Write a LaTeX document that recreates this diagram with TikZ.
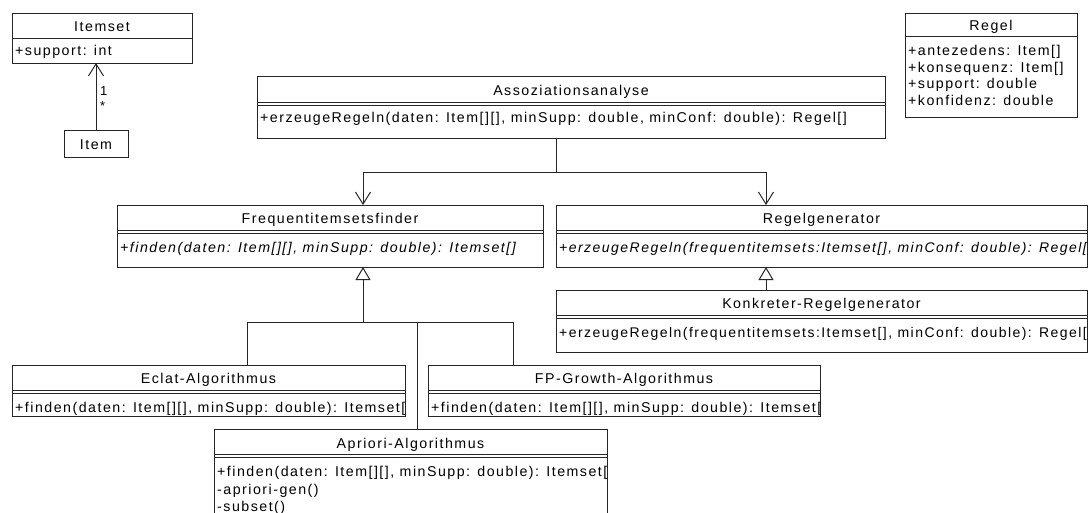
\documentclass[tikz,border=0pt]{standalone}
\usepackage{fontspec}
\setmainfont{Liberation Sans}[LetterSpace=10.5]
\usetikzlibrary{arrows.meta,calc}

\newcommand\umlfont{\fontsize{14.2pt}{17pt}\selectfont}
\newcommand\umlfontlong{\fontsize{14pt}{17pt}\selectfont}
\newcommand\classbox[5]{% name, left, top, width, height
  \node[umlbox, minimum width=#4pt, minimum height=#5pt] (#1) at (#2,#3) {};}
\newcommand\hsep[2]{% box, offset from top
  \draw[sepline] ($(#1.north west)+(0,#2)$) -- ($(#1.north east)+(0,#2)$);}
\newcommand\dsep[1]{% empty attribute compartment (double line)
  \hsep{#1}{25}\hsep{#1}{28}}

\tikzset{
  umlbox/.style={draw=black!85, line width=1pt, rectangle, outer sep=0pt,
    inner sep=0pt, anchor=north west, fill=white},
  ttl/.style={inner sep=0pt, anchor=base, font=\umlfont, text=black},
  row/.style={inner sep=0pt, anchor=base west, font=\umlfont, text=black},
  irow/.style={row, font=\umlfont\itshape},
  longrow/.style={row, font=\umlfontlong},
  ilongrow/.style={row, font=\umlfontlong\itshape},
  mult/.style={inner sep=0pt, anchor=base west, font=\fontsize{13pt}{15pt}\selectfont},
  sepline/.style={line width=1pt, draw=black!85},
  link/.style={line width=1pt, draw=black!85},
  assoc/.style={link, -{Straight Barb[length=12pt,width=15pt]}},
  inherit/.style={link, -{Triangle[open,fill=white,length=13pt,width=15pt]}},
}

\begin{document}
\begin{tikzpicture}[x=1pt, y=-1pt]
\useasboundingbox (0,0) rectangle (1089,512);
\fill[white] (0,0) rectangle (1089,512);
\clip (0,0) rectangle (1089,512);

% ---------- class boxes ----------
\classbox{itemset}{12}{13}{180}{50}
\classbox{item}{64}{130}{64}{27}
\classbox{regel}{905}{13}{172}{104}
\classbox{assoz}{257}{76}{628}{62}
\classbox{freq}{117}{205}{426}{62}
\classbox{regelgen}{556}{205}{531}{62}
\classbox{konk}{556}{290}{531}{62}
\classbox{eclat}{12}{365}{393}{51}
\classbox{fp}{428}{365}{392}{51}
\classbox{apriori}{214}{429}{393}{120}

% ---------- compartments ----------
\hsep{itemset}{25}
\hsep{regel}{23}
\hsep{assoz}{26}\hsep{assoz}{29}
\dsep{freq}
\dsep{regelgen}
\dsep{konk}
\dsep{eclat}
\dsep{fp}
\dsep{apriori}

% ---------- texts ----------
\node[ttl] (itemsetT) at (102,31) {Itemset};
\node[row] (itemsetA) at (15,55) {+support: int};

\node[ttl] (itemT) at (96,149) {Item};

\node[ttl] (regelT) at (991,30) {Regel};
\node[row] (regelA1) at (908,55) {+antezedens: Item[]};
\node[row] (regelA2) at (908,72) {+konsequenz: Item[]};
\node[row] (regelA3) at (908,88) {+support: double};
\node[row] (regelA4) at (908,105) {+konfidenz: double};

\node[ttl] (assozT) at (571,95) {Assoziationsanalyse};
\node[row] (assozM) at (260,122) {+erzeugeRegeln(daten: Item[][], minSupp: double, minConf: double): Regel[]};

\node[ttl] (freqT) at (330,223) {Frequentitemsetsfinder};
\node[irow] (freqM) at (120,252) {+finden(daten: Item[][], minSupp: double): Itemset[]};

\begin{scope}
\clip (regelgen.north west) rectangle (regelgen.south east);
\node[ttl] (regelgenT) at (821.5,223) {Regelgenerator};
\node[ilongrow] (regelgenM) at (559,252) {+erzeugeRegeln(frequentitemsets:Itemset[], minConf: double): Regel[]};
\end{scope}

\begin{scope}
\clip (konk.north west) rectangle (konk.south east);
\node[ttl] (konkT) at (821.5,308) {Konkreter-Regelgenerator};
\node[longrow] (konkM) at (559,337) {+erzeugeRegeln(frequentitemsets:Itemset[], minConf: double): Regel[]};
\end{scope}

\begin{scope}
\clip (eclat.north west) rectangle (eclat.south east);
\node[ttl] (eclatT) at (208.5,383) {Eclat-Algorithmus};
\node[row] (eclatM) at (15,412) {+finden(daten: Item[][], minSupp: double): Itemset[]};
\end{scope}

\begin{scope}
\clip (fp.north west) rectangle (fp.south east);
\node[ttl] (fpT) at (624,383) {FP-Growth-Algorithmus};
\node[row] (fpM) at (431,412) {+finden(daten: Item[][], minSupp: double): Itemset[]};
\end{scope}

\begin{scope}
\clip (apriori.north west) rectangle (apriori.south east);
\node[ttl] (aprioriT) at (410.5,448) {Apriori-Algorithmus};
\node[row] (aprioriM1) at (217,476) {+finden(daten: Item[][], minSupp: double): Itemset[]};
\node[row] (aprioriM2) at (217,494) {-apriori-gen()};
\node[row] (aprioriM3) at (217,511) {-subset()};
\end{scope}

% ---------- connectors ----------
\draw[assoc] (item.north) -- (item.north |- itemset.south);
\node[mult] (multOne) at (100,95) {1};
\node[mult] (multMany) at (100,110) {*};

\coordinate (fork) at (556,172);
\draw[link] (fork |- assoz.south) -- (fork);
\draw[assoc] (fork) -| ([xshift=33pt]freq.north);
\draw[assoc] (fork) -| ([xshift=-55.5pt]regelgen.north);

\draw[inherit] ([xshift=-55.5pt]konk.north) -- ([xshift=-55.5pt]regelgen.south);

\coordinate (hub) at (363,322);
\draw[inherit] (hub) -- ([xshift=33pt]freq.south);
\draw[link] ([xshift=38.5pt]eclat.north) |- (hub);
\draw[link] ([xshift=-111pt]fp.north) |- (hub);
\draw[link] ([xshift=6.5pt]apriori.north) -- ([xshift=6.5pt]apriori.north |- hub);
\end{tikzpicture}
\end{document}
